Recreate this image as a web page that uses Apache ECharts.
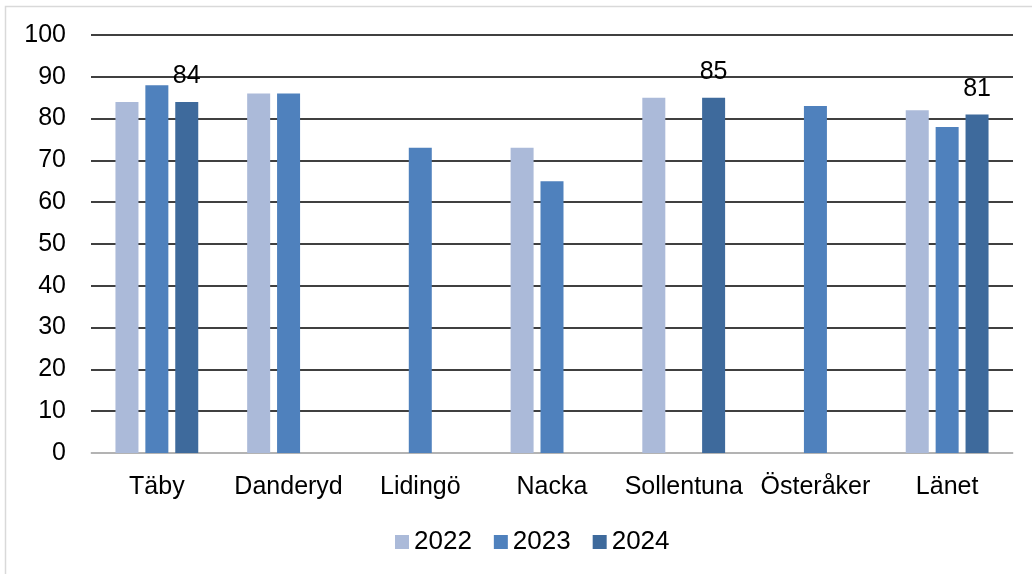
<!DOCTYPE html>
<html><head><meta charset="utf-8">
<script src="https://cdn.jsdelivr.net/npm/echarts@6/dist/echarts.min.js"></script>
<style>html,body{margin:0;padding:0;background:#fff}#c{width:1032px;height:574px}</style>
</head><body><div id="c"></div>
<script>
const categories = ['Täby','Danderyd','Lidingö','Nacka','Sollentuna','Österåker','Länet'];
const v2022 = [84, 86, null, 73, 85, null, 82];
const v2023 = [88, 86, 73, 65, null, 83, 78];
const v2024 = [84, null, null, null, 85, null, 81];
const yTicks = {min: 0, max: 100, interval: 10};
const font = 'Liberation Sans, Arial, sans-serif';
const chart = echarts.init(document.getElementById('c'));
const mk = (name, data, color, label) => ({
  name, type: 'bar', data, barWidth: 23, barGap: '30%',
  itemStyle: {color},
  label: label ? {show: true, position: 'top', distance: 13, color: '#000', fontSize: 25, fontFamily: font} : {show: false}
});
chart.setOption({
  animation: false,
  graphic: [{type: 'rect', shape: {x: 5.5, y: 6.5, width: 1040, height: 580}, style: {fill: 'none', stroke: '#d9d9d9', lineWidth: 1.5}, silent: true}],
  grid: {left: 91, right: 19, top: 35, bottom: 121},
  legend: {top: 524, left: 390, itemWidth: 14, itemHeight: 14, itemGap: 22, icon: 'rect',
    textStyle: {fontSize: 26, fontFamily: font, color: '#000'}, data: ['2022','2023','2024']},
  xAxis: {type: 'category', data: categories,
    axisLine: {lineStyle: {color: '#d9d9d9', width: 1.5}}, axisTick: {show: false},
    axisLabel: {fontSize: 25, fontFamily: font, color: '#000', margin: 22, interval: 0}},
  yAxis: {type: 'value', min: yTicks.min, max: yTicks.max, interval: yTicks.interval,
    axisLine: {show: false}, axisTick: {show: false},
    splitLine: {lineStyle: {color: '#000', width: 1.5}},
    axisLabel: {fontSize: 25, fontFamily: font, color: '#000', margin: 25}},
  series: [
    mk('2022', v2022, '#abbad9', false),
    mk('2023', v2023, '#4f81bd', false),
    mk('2024', v2024, '#3e6a9c', true)
  ]
});
</script></body></html>
